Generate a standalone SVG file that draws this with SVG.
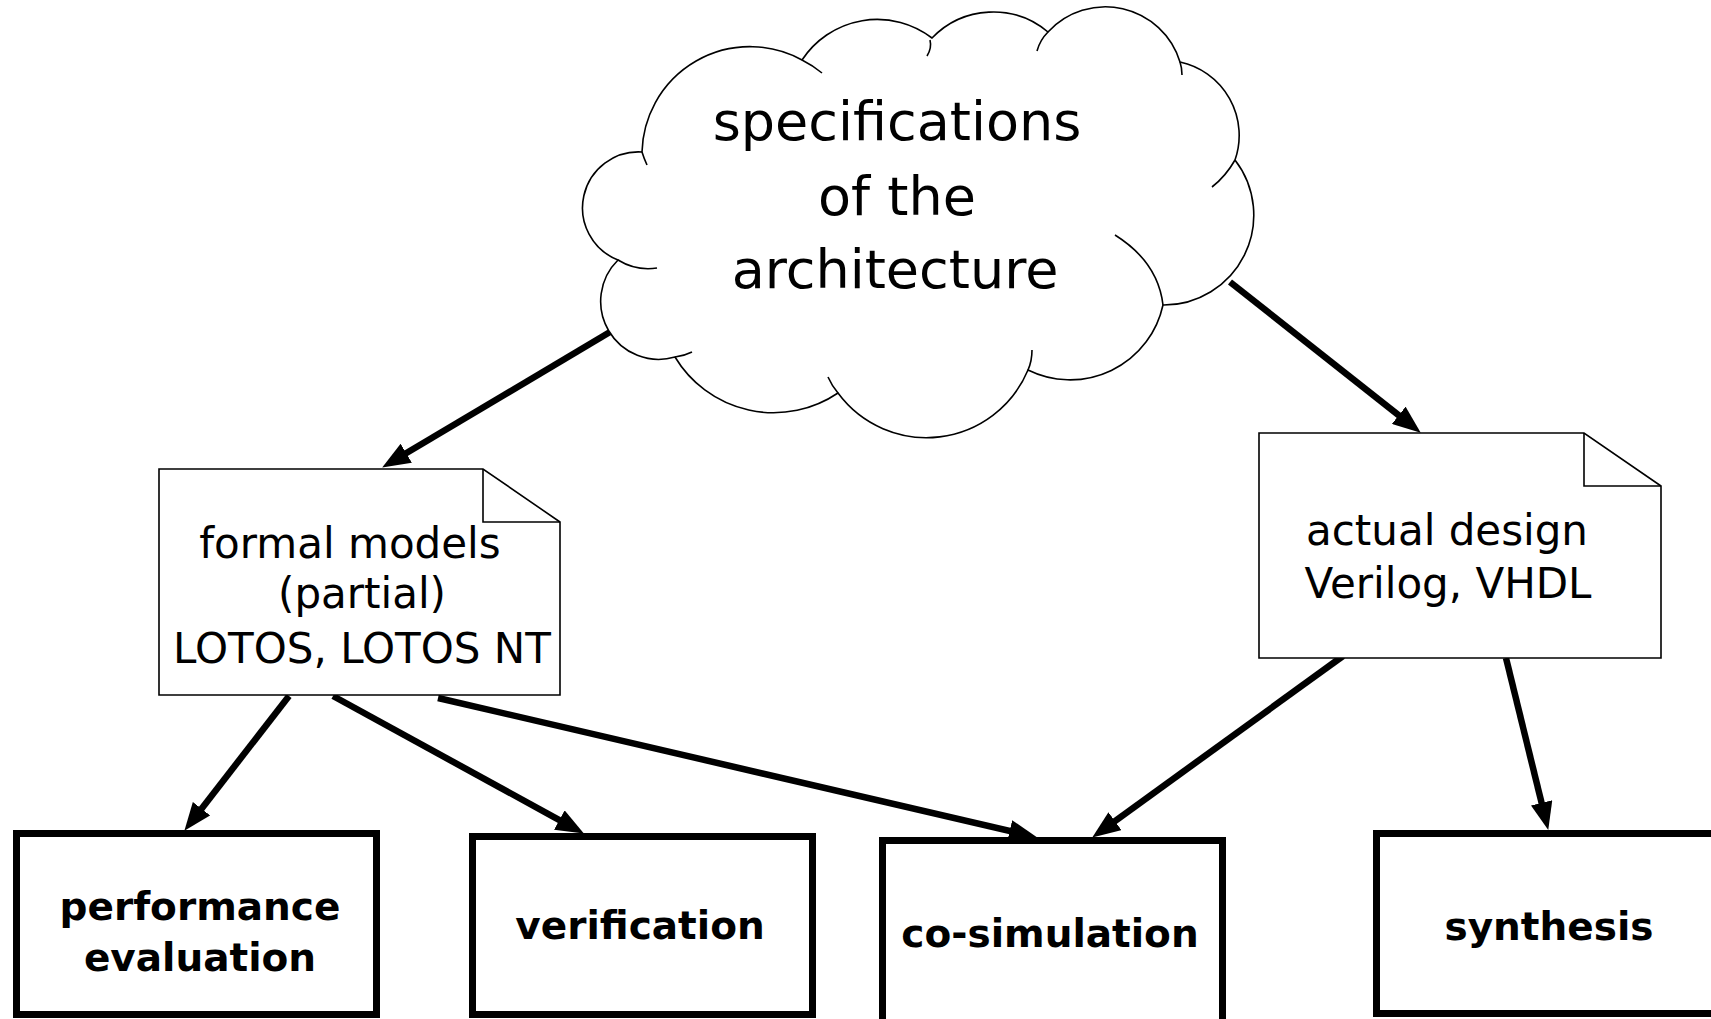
<svg xmlns="http://www.w3.org/2000/svg" width="1711" height="1019" viewBox="0 0 1711 1019">
<style>
  .bg { fill: #ffffff; }
  .thin { fill: #ffffff; stroke: #000000; stroke-width: 1.6; stroke-linejoin: miter; }
  .tail { fill: none; stroke: #000000; stroke-width: 1.6; }
  .box { fill: #ffffff; stroke: #000000; stroke-width: 7; }
  .conn { fill: none; stroke: #000000; stroke-width: 6.5; marker-end: url(#ah); }
  .big { font-family: "DejaVu Sans", "Liberation Sans", sans-serif; font-size: 54px; fill: #000000; text-anchor: middle; }
  .note { font-family: "DejaVu Sans", "Liberation Sans", sans-serif; font-size: 42px; fill: #000000; text-anchor: middle; }
  .lbl { font-family: "DejaVu Sans", "Liberation Sans", sans-serif; font-size: 39px; font-weight: bold; fill: #000000; text-anchor: middle; }
</style>
<defs>
  <marker id="ah" markerUnits="userSpaceOnUse" markerWidth="28" markerHeight="22" viewBox="0 0 28 22" refX="11" refY="11" orient="auto">
    <path d="M0,0 L28,11 L0,22 Z" fill="#000000"/>
  </marker>
</defs>
<rect class="bg" x="0" y="0" width="1711" height="1019"/>

<g id="connectors">
  <line class="conn" x1="610" y1="332" x2="396.8" y2="458.8"/>
  <line class="conn" x1="1230" y1="282" x2="1407.4" y2="422.1"/>
  <line class="conn" x1="289" y1="696" x2="194.8" y2="817.4"/>
  <line class="conn" x1="333" y1="696" x2="569" y2="825.3"/>
  <line class="conn" x1="438" y1="698" x2="1020.4" y2="833.4"/>
  <line class="conn" x1="1343" y1="656" x2="1106" y2="827.6"/>
  <line class="conn" x1="1506" y1="658" x2="1544.2" y2="813.5"/>
</g>

<g id="spec">
  <path class="thin" d="M642,152 A108,108 0 0 1 802,60 A90,90 0 0 1 932,38 A85,85 0 0 1 1048,32 A78,78 0 0 1 1180,62 A75,75 0 0 1 1235,160 A90,90 0 0 1 1163,305 A95,95 0 0 1 1028,370 A110,110 0 0 1 838,393 A115,115 0 0 1 675,357 A58,58 0 0 1 618,260 A56,56 0 0 1 642,152 Z"/>
  <path class="tail" d="M657,268 A58,58 0 0 1 618,260"/>
  <path class="tail" d="M647,165 A108,108 0 0 1 642,152"/>
  <path class="tail" d="M802,60 A108,108 0 0 1 822,73"/>
  <path class="tail" d="M930,40 Q932,48 927,56"/>
  <path class="tail" d="M1037,51 Q1040,40 1048,32"/>
  <path class="tail" d="M1180,62 Q1182,68 1182,75"/>
  <path class="tail" d="M1235,160 Q1226,176 1212,187"/>
  <path class="tail" d="M1115,235 Q1158,262 1163,305"/>
  <path class="tail" d="M1032,350 Q1032,361 1028,370"/>
  <path class="tail" d="M838,393 Q832,386 828,377"/>
  <path class="tail" d="M692,352 Q684,356 675,357"/>
  <text class="big" x="897" y="140">specifications</text>
  <text class="big" x="897" y="215">of the</text>
  <text class="big" x="895" y="288">architecture</text>
</g>

<g id="formal">
  <path class="thin" d="M159,469 H483 L560,522 V695 H159 Z"/>
  <path class="tail" d="M483,469 V522 H560"/>
  <text class="note" x="350" y="558">formal models</text>
  <text class="note" x="362" y="608">(partial)</text>
  <text class="note" x="362" y="663">LOTOS, LOTOS NT</text>
</g>

<g id="actual">
  <path class="thin" d="M1259,433 H1584 L1661,486 V658 H1259 Z"/>
  <path class="tail" d="M1584,433 V486 H1661"/>
  <text class="note" x="1447" y="545">actual design</text>
  <text class="note" x="1448" y="598">Verilog, VHDL</text>
</g>

<g id="perf">
  <rect class="box" x="16.5" y="833.5" width="360" height="181"/>
  <text class="lbl" x="200" y="920">performance</text>
  <text class="lbl" x="200" y="971">evaluation</text>
</g>

<g id="verif">
  <rect class="box" x="472.5" y="836.5" width="340" height="178"/>
  <text class="lbl" x="640" y="939">verification</text>
</g>

<g id="cosim">
  <rect class="box" x="882.5" y="840.5" width="340" height="200"/>
  <text class="lbl" x="1050" y="947">co-simulation</text>
</g>

<g id="synth">
  <rect class="box" x="1376.5" y="833.5" width="350" height="180"/>
  <text class="lbl" x="1549" y="940">synthesis</text>
</g>
</svg>
